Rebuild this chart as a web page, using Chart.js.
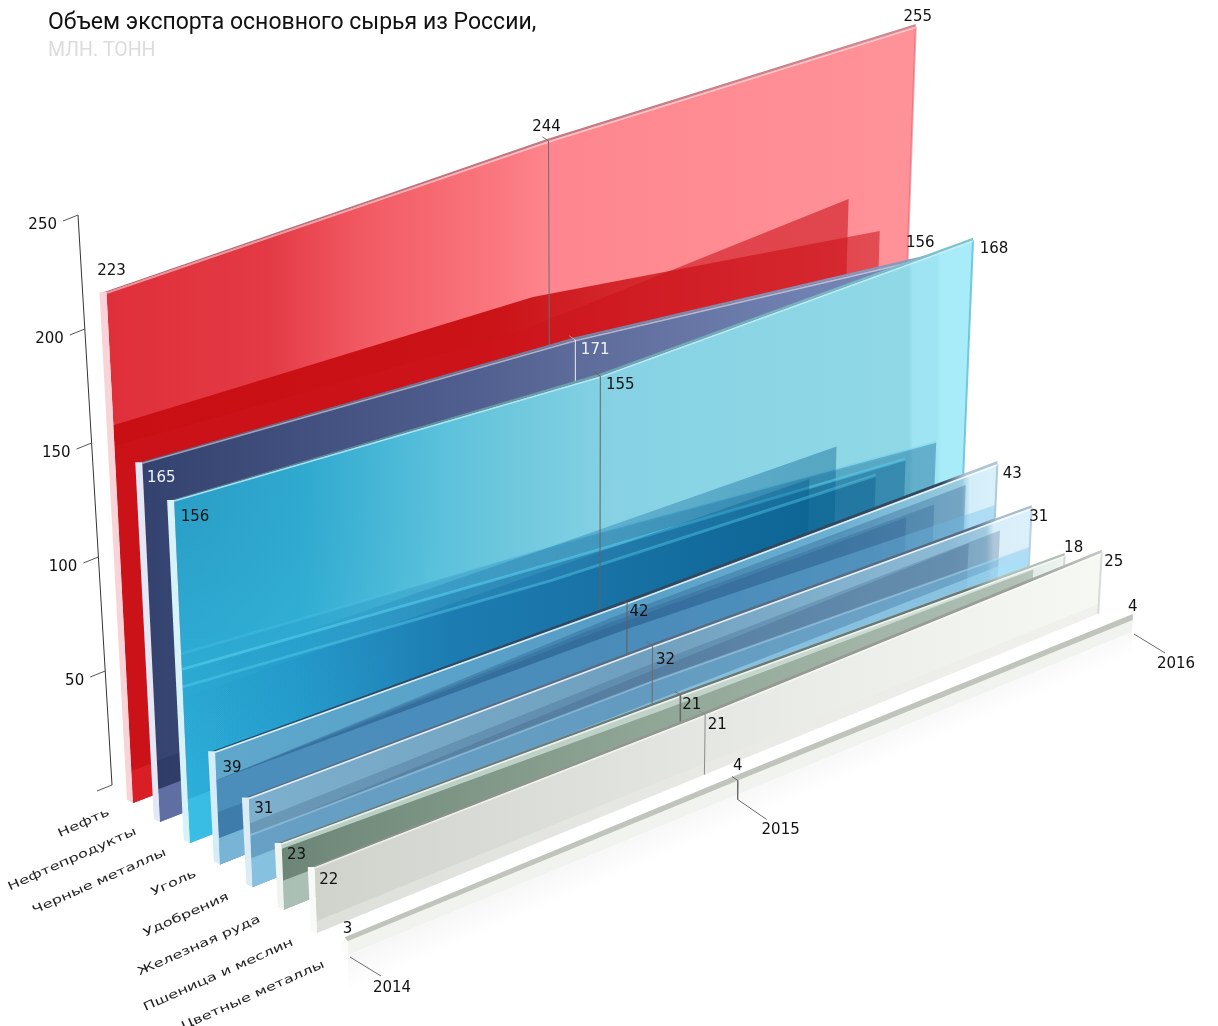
<!DOCTYPE html>
<html>
<head>
<meta charset="utf-8">
<style>html,body{margin:0;background:#fff}canvas{display:block}</style>
<script src="https://cdn.jsdelivr.net/npm/chart.js@4"></script>
</head>
<body>
<canvas id="myChart" width="1218" height="1026"></canvas>
<script>
var years = ['2014', '2015', '2016'];
var categories = ['Нефть', 'Нефтепродукты', 'Черные металлы', 'Уголь', 'Удобрения', 'Железная руда', 'Пшеница и меслин', 'Цветные металлы'];
var oil = [223, 244, 255];
var oilProducts = [165, 171, 156];
var ferrousMetals = [156, 155, 168];
var coal = [39, 42, 43];
var fertilizers = [31, 32, 31];
var ironOre = [23, 21, 18];
var wheat = [22, 21, 25];
var nonFerrous = [3, 4, 4];
var series = [oil, oilProducts, ferrousMetals, coal, fertilizers, ironOre, wheat, nonFerrous];
var axisTicks = [50, 100, 150, 200, 250];

// scene set-up: the floor quad and how each pane sits on it
var nearBack = [133, 803], nearFront = [348, 955], farBack = [899, 506], farFront = [1132, 632];
var depth = [0, 0.125, 0.264, 0.404, 0.555, 0.702, 0.855, 1];
var midSpan = [0.545, 0.541, 0.532, 0.526, 0.515, 0.509, 0.496, 0.497];
var gainNear = [2.29, 2.18, 2.2, 2.9, 2.9, 2.9, 3.0, 4.6];
var gainMid = [2.05, 1.87, 1.97, 2.38, 2.53, 2.57, 2.86, 3.5];
var gainFar = [1.88, 1.71, 1.78, 2.16, 2.2, 2.17, 2.44, 3];
var nadir = [585, 9500];

function mix(a, b, k) { return a + (b - a) * k; }

function basePoint(s, u) {
    var d = depth[s];
    var x0 = mix(nearBack[0], nearFront[0], d), y0 = mix(nearBack[1], nearFront[1], d);
    var x1 = mix(farBack[0], farFront[0], d), y1 = mix(farBack[1], farFront[1], d);
    return { x: mix(x0, x1, u), y: mix(y0, y1, u) };
}

function gainAt(s, u) {
    var m = midSpan[s];
    return u <= m ? mix(gainNear[s], gainMid[s], u / m) : mix(gainMid[s], gainFar[s], (u - m) / (1 - m));
}

// pane s, position u along the years, height given in value units
function project(s, u, level) {
    var b = basePoint(s, u);
    var h = level * gainAt(s, u);
    var lean = (b.x - nadir[0]) / (nadir[1] - b.y);
    return { x: b.x + lean * h, y: b.y - h };
}

function yearU(s, t) { return [0, midSpan[s], 1][t]; }
function topPoint(s, t) { return project(s, yearU(s, t), series[s][t]); }
function shift(p, dx, dy) { return { x: p.x + dx, y: p.y + dy }; }

var canvas = document.getElementById('myChart');
var ctx = canvas.getContext('2d');

function grad(x0, x1, stops) {
    var g = ctx.createLinearGradient(x0, 0, x1, 0);
    stops.forEach(function (st) { g.addColorStop(st[0], st[1]); });
    return g;
}

var layers = [];
function addShape(points, color) {
    layers.push({ data: points, backgroundColor: color, borderWidth: 0, fill: 'shape' });
}
function addLine(points, color, width) {
    layers.push({ data: points, borderColor: color, borderWidth: width, fill: false });
}

var faceFill = [
    grad(105, 915, [[0, '#df2f3a'], [0.2, '#e33a45'], [0.32, '#f25a63'], [0.5, '#fb7a82'], [0.55, '#fe868e'], [1, '#ff9299']]),
    grad(142, 941, [[0, '#34426f'], [0.4, '#4f5e8e'], [0.55, '#5e6c9b'], [1, '#7a8cbc']]),
    grad(173, 973, [[0, '#30b6de'], [0.16, '#33b6dc'], [0.4, '#6ac6dc'], [0.55, '#86d2e4'], [0.92, '#90d8e6'], [0.925, '#9fe4f2'], [0.955, '#9fe4f2'], [0.96, '#a8ecfa'], [1, '#a8ecfa']]),
    grad(216, 997, [[0, '#5fa8cc'], [0.5, '#559dc6'], [0.8, '#6cb0d2'], [0.955, '#9accdf'], [0.965, '#d4eef9'], [1, '#d8f0fa']]),
    grad(250, 1029, [[0, '#7db0cc'], [0.5, '#6f9fbe'], [0.9, '#8dbbd6'], [0.945, '#a0cce2'], [0.955, '#d8eef9'], [1, '#dcf0fa']]),
    grad(282, 1062, [[0, '#b8cfc4'], [0.5, '#c0d2c8'], [0.92, '#d5e2da'], [1, '#eef4f0']]),
    grad(315, 1100, [[0, '#cfd3cc'], [0.3, '#dcdfd9'], [0.6, '#e9ebe6'], [1, '#f6f8f4']]),
    '#f1f3ef'
];
var edgeColor = [
    grad(98, 915, [[0, '#b5636f'], [1, '#d08a92']]),
    grad(135, 941, [[0, '#55607c'], [1, '#8e9cc0']]),
    grad(167, 973, [[0, '#567a88'], [1, '#7fc4d0']]),
    grad(210, 997, [[0, '#2f4a63'], [0.93, '#34495e'], [0.96, '#b0c4d4'], [1, '#b0c4d4']]),
    grad(243, 1029, [[0, '#5a6b80'], [0.93, '#5a6b80'], [0.96, '#a8bccc'], [1, '#a8bccc']]),
    grad(276, 1062, [[0, '#6f786e'], [0.88, '#70786e'], [0.92, '#b5c0b5'], [1, '#b5c0b5']]),
    grad(309, 1100, [[0, '#8a8f88'], [0.9, '#9a9f98'], [1, '#c5c9c2']]),
    '#bfc4bc'
];
var edgeThick = [2.5, 2.5, 2.5, 3, 2.5, 2.5, 3, 6];
var sideColor = ['#f8d4d8', '#e2e8f6', '#d8f2fa', '#d4eef9', '#dcecf6', '#eff4f0', '#f9faf8', '#fbfbfa'];
var rimColor = ['rgba(255,255,255,.5)', 'rgba(255,255,255,.5)', 'rgba(200,240,248,.8)', 'rgba(255,255,255,.8)', 'rgba(255,255,255,.8)', 'rgba(255,255,255,.7)', 'rgba(255,255,255,.6)', 'rgba(255,255,255,0)'];
var rightEdge = ['rgba(220,90,100,.5)', 'rgba(100,120,170,.4)', 'rgba(90,190,210,.8)', 'rgba(170,195,215,.9)', 'rgba(180,205,222,.9)', 'rgba(190,205,195,.7)', 'rgba(205,212,205,.8)', 'rgba(0,0,0,0)'];
var tickColor = ['#6e6e6e', 'rgba(235,240,250,.5)', '#6b6258', '#6b5a50', '#6b6b6b', '#6b6b6b', '#8c8c8c', '#6b6b6b'];

// shapes seen through each glass pane, heights in the pane's own value units
var blueShade = function () {
    return grad(187, 966, [[0, 'rgba(0,100,170,.02)'], [0.145, 'rgba(0,100,170,.07)'], [0.34, 'rgba(0,95,160,.22)'], [0.8, 'rgba(0,90,140,.38)']]);
};
var topShade = ctx.createRadialGradient(150, 480, 20, 150, 480, 300);
topShade.addColorStop(0, 'rgba(20,70,110,.22)');
topShade.addColorStop(1, 'rgba(20,70,110,0)');

var ghosts = [
    { host: 0, end: 0.963, levels: [165, 170, 151], color: grad(105, 880, [[0, 'rgba(200,14,18,.97)'], [0.5, 'rgba(200,14,18,.95)'], [1, 'rgba(205,20,28,.55)']]) },
    { host: 0, end: 0.922, levels: [156, 155, 173], color: 'rgba(205,20,28,.6)' },
    { host: 0, end: 1, levels: [14, 14, 14], color: 'rgba(255,60,70,.3)' },
    { host: 1, end: 1, levels: [15, 15, 15], color: 'rgba(140,160,220,.7)' },
    { host: 1, end: 1, levels: [28, 28, 28], color: 'rgba(20,30,70,.2)' },
    { host: 2, end: 1, levels: [156, 155, 168], color: topShade },
    { host: 2, end: 0.963, levels: [86, 76, 60], color: blueShade(), line: 'rgba(90,200,235,.25)' },
    { host: 2, end: 0.834, levels: [77, 77, 77.5], color: blueShade() },
    { host: 2, end: 0.924, levels: [79, 68, 57], color: blueShade(), line: 'rgba(90,210,240,.55)' },
    { host: 2, end: 0.8, levels: [66, 66, 65], color: blueShade() },
    { host: 2, end: 0.886, levels: [71, 60, 54], color: blueShade(), line: 'rgba(90,210,240,.4)' },
    { host: 2, end: 1, levels: [20, 20, 20], color: 'rgba(70,205,240,.5)' },
    { host: 3, end: 0.96, levels: [29, 38, 38.6], color: 'rgba(30,80,130,.3)' },
    { host: 3, end: 0.92, levels: [29, 36, 35], color: 'rgba(30,80,130,.25)' },
    { host: 3, end: 0.884, levels: [29, 34, 34], color: 'rgba(30,80,130,.25)' },
    { host: 3, end: 1, levels: [29, 31, 24], color: 'rgba(110,190,235,.38)' },
    { host: 3, end: 1, levels: [18, 18, 18], color: 'rgba(30,80,130,.28)' },
    { host: 3, end: 1, levels: [9, 9, 9], color: 'rgba(165,225,250,.55)' },
    { host: 4, end: 0.96, levels: [22, 25, 26], color: 'rgba(50,85,125,.25)' },
    { host: 4, end: 0.92, levels: [18, 22, 25.6], color: 'rgba(50,85,125,.25)' },
    { host: 4, end: 1, levels: [18, 18, 13], color: 'rgba(120,195,235,.42)', line: 'rgba(185,225,245,.45)' },
    { host: 4, end: 1, levels: [10, 10, 10], color: 'rgba(165,225,250,.5)' },
    { host: 5, end: 0.96, levels: [21, 18, 17], color: grad(282, 1033, [[0, 'rgba(80,105,88,.72)'], [0.5, 'rgba(115,140,120,.62)'], [1, 'rgba(130,150,135,.45)']]) },
    { host: 5, end: 1, levels: [10, 8, 7], color: 'rgba(210,230,220,.6)' },
    { host: 6, end: 1, levels: [4, 4, 4], color: 'rgba(235,235,232,.5)' }
];

// soft shadow on the floor in front of the last pane
var floorShade = ctx.createLinearGradient(720, 790, 735, 825);
floorShade.addColorStop(0, 'rgba(0,0,0,.04)');
floorShade.addColorStop(1, 'rgba(0,0,0,0)');
(function () {
    var a = basePoint(7, 0), b = basePoint(7, 1);
    addShape([a, b, shift(b, 0, 45), shift(a, 0, 45), a], floorShade);
})();

series.forEach(function (values, s) {
    var near = basePoint(s, 0), far = basePoint(s, 1);
    var tops = [topPoint(s, 0), topPoint(s, 1), topPoint(s, 2)];

    addShape([tops[0], tops[1], tops[2], far, near, tops[0]], faceFill[s]);

    ghosts.filter(function (g) { return g.host === s; }).forEach(function (g) {
        var pts = [0, 1, 2].map(function (t) { return project(s, yearU(s, t) * g.end, g.levels[t]); });
        addShape([pts[0], pts[1], pts[2], basePoint(s, g.end), near, pts[0]], g.color);
        if (g.line) addLine(pts, g.line, g.host === 4 ? 2 : 3);
    });

    addLine([tops[2], far], rightEdge[s], 2);

    var th = edgeThick[s];
    var corner = s === 7 ? shift(tops[0], -3, -4) : shift(tops[0], -6, 1);
    addShape([corner, shift(tops[1], 0, -th), shift(tops[2], 0, -th), tops[2], tops[1], tops[0], corner], edgeColor[s]);
    addLine([shift(tops[0], 0, 1), shift(tops[1], 0, 1), shift(tops[2], 0, 1)], rimColor[s], 1.5);
    addShape([shift(tops[0], -7, 0), tops[0], near, shift(near, -6, -3), shift(tops[0], -7, 0)], sideColor[s]);

    // marker that ties the 2015 value to its pane
    if (s < 7) {
        addLine([shift(tops[1], -6, -4), tops[1], basePoint(s, midSpan[s])], tickColor[s], 1);
    }
});

// leader lines to the year captions
years.forEach(function (y, t) {
    var b = basePoint(7, yearU(7, t));
    if (t === 1) addLine([shift(topPoint(7, 1), -6, -4), topPoint(7, 1), shift(b, 0, 5), shift(b, 29, 25)], '#6b6b6b', 1);
    else addLine([shift(b, 2, 2), shift(b, 33, 21)], '#6b6b6b', 1);
});

// value axis standing behind the first pane
var axisBase = [112, 785], axisGain = 2.28, axisLean = 34 / 570;
function axisPoint(v) {
    var h = v * axisGain;
    return { x: axisBase[0] - axisLean * h, y: axisBase[1] - h };
}
addLine([axisPoint(250), axisPoint(0)], '#333', 1);
axisTicks.concat([0]).forEach(function (v) {
    addLine([shift(axisPoint(v), -15, 6), axisPoint(v)], '#555', 1);
});

var valueOffsets = [
    [[5, -21], [-2, -14], [2, -9]],
    [[19, 16], [20, 10], [-18, -12]],
    [[21, 17], [20, 9], [21, 9]],
    [[17, 17], [12, 9], [15, 10]],
    [[15, 12], [13, 14], [7, 9]],
    [[15, 12], [11, 10], [9, -7]],
    [[14, 13], [12, 11], [12, 9]],
    [[0, -12], [0, -14], [0, -13]]
];
var lightValue = { '1,0': true, '1,1': true };
var yearOffsets = [[44, 33], [43, 36], [44, 32]];

var textPlugin = {
    id: 'chartText',
    afterDatasetsDraw: function (chart) {
        var c = chart.ctx, sx = chart.scales.x, sy = chart.scales.y;
        function place(p) { return { x: sx.getPixelForValue(p.x), y: sy.getPixelForValue(p.y) }; }
        c.save();
        c.textBaseline = 'middle';

        c.textAlign = 'left';
        c.fillStyle = '#111';
        c.font = '23px Roboto';
        c.fillText('Объем экспорта основного сырья из России,', 48, 23);
        c.fillStyle = '#dcdcdc';
        c.font = '19.5px Roboto';
        c.fillText('МЛН. ТОНН', 48, 51);

        c.textAlign = 'center';
        c.font = '15px "DejaVu Sans"';
        series.forEach(function (values, s) {
            values.forEach(function (v, t) {
                var p = place(topPoint(s, t));
                c.fillStyle = lightValue[s + ',' + t] ? '#eef2fa' : '#111';
                c.fillText(String(v), p.x + valueOffsets[s][t][0], p.y + valueOffsets[s][t][1]);
            });
        });

        c.fillStyle = '#111';
        years.forEach(function (y, t) {
            var p = place(basePoint(7, yearU(7, t)));
            c.fillText(y, p.x + yearOffsets[t][0], p.y + yearOffsets[t][1]);
        });

        c.textAlign = 'right';
        axisTicks.forEach(function (v) {
            var p = place(axisPoint(v));
            c.fillText(String(v), p.x - 21, p.y + 10);
        });

        // category names lie flat on the floor
        c.font = '14px "DejaVu Sans"';
        c.fillStyle = '#222';
        categories.forEach(function (name, s) {
            var p = place(basePoint(s, 0));
            c.save();
            c.translate(p.x - 24, p.y + 9);
            c.rotate(-24 * Math.PI / 180);
            c.scale(1.16, 0.82);
            c.fillText(name, 0, 0);
            c.restore();
        });
        c.restore();
    }
};

var myChart = new Chart(ctx, {
    type: 'scatter',
    data: {
        datasets: layers.map(function (l, i) {
            return Object.assign({ showLine: true, tension: 0, pointRadius: 0, clip: false, order: -i, borderColor: 'rgba(0,0,0,0)' }, l);
        })
    },
    options: {
        responsive: false,
        animation: false,
        layout: { padding: 0 },
        plugins: { legend: { display: false }, tooltip: { enabled: false } },
        scales: {
            x: { type: 'linear', min: 0, max: 1218, display: false },
            y: { type: 'linear', min: 0, max: 1026, reverse: true, display: false }
        }
    },
    plugins: [textPlugin]
});
</script>
</body>
</html>
